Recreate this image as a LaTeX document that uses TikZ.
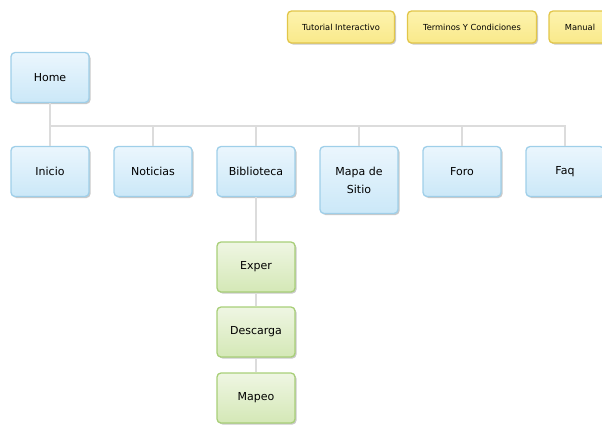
\documentclass[tikz,border=0pt]{standalone}
\usepackage{fontspec}
\setmainfont{DejaVu Sans}
\usetikzlibrary{shadows}
\definecolor{linkgray}{HTML}{DCDCDC}
\definecolor{blueline}{HTML}{9FCFE9}
\definecolor{bluetop}{HTML}{EBF6FD}
\definecolor{bluebot}{HTML}{CBE8F8}
\definecolor{greenline}{HTML}{A8CF78}
\definecolor{greentop}{HTML}{EFF6E3}
\definecolor{greenbot}{HTML}{D4E8B6}
\definecolor{yellowline}{HTML}{E2C64A}
\definecolor{yellowtop}{HTML}{FDF3AE}
\definecolor{yellowbot}{HTML}{F9E98A}
\tikzset{
  page/.style={draw=blueline, line width=1.3pt, rounded corners=4pt,
    top color=bluetop, bottom color=bluebot, text=black,
    font=\fontsize{11}{18}\selectfont,
    minimum width=78pt, minimum height=50pt, align=center, inner sep=0pt,
    drop shadow={shadow xshift=1.5pt, shadow yshift=-1.5pt, fill=black!35, opacity=0.6}},
  subpage/.style={page, draw=greenline, top color=greentop, bottom color=greenbot},
  extra/.style={page, draw=yellowline, top color=yellowtop, bottom color=yellowbot,
    minimum height=32pt, font=\fontsize{8.3}{9}\selectfont},
  link/.style={draw=linkgray, line width=1.6pt}
}
\begin{document}
\begin{tikzpicture}[x=1pt, y=-1pt]
  \useasboundingbox (0,0) rectangle (602,424);
  \draw
    (50,77.5) node[page] (home){Home}
    (50,171.5) node[page] (inicio){Inicio}
    (153,171.5) node[page] (noticias){Noticias}
    (256,171.5) node[page] (biblioteca){Biblioteca}
    (359,180) node[page, minimum height=67pt] (mapa){Mapa de\\Sitio}
    (462,171.5) node[page] (foro){Foro}
    (565,171.5) node[page] (faq){Faq}
    (256,267) node[subpage] (exper){Exper}
    (256,332) node[subpage] (descarga){Descarga}
    (256,398) node[subpage] (mapeo){Mapeo}
    (341,27) node[extra, minimum width=107pt] (tutorial){Tutorial Interactivo}
    (472,27) node[extra, minimum width=129pt] (terminos){Terminos Y Condiciones}
    (580,27) node[extra, minimum width=62pt] (manual){Manual};
  \coordinate (bus) at (50,126);
  \begin{scope}[link]
    \draw (home) to (bus);
    \foreach \n in {inicio,noticias,biblioteca,mapa,foro,faq}
      \draw (bus) -| (\n.north);
    \draw (biblioteca) to (exper);
    \draw (exper) to (descarga);
    \draw (descarga) to (mapeo);
  \end{scope}
\end{tikzpicture}
\end{document}
